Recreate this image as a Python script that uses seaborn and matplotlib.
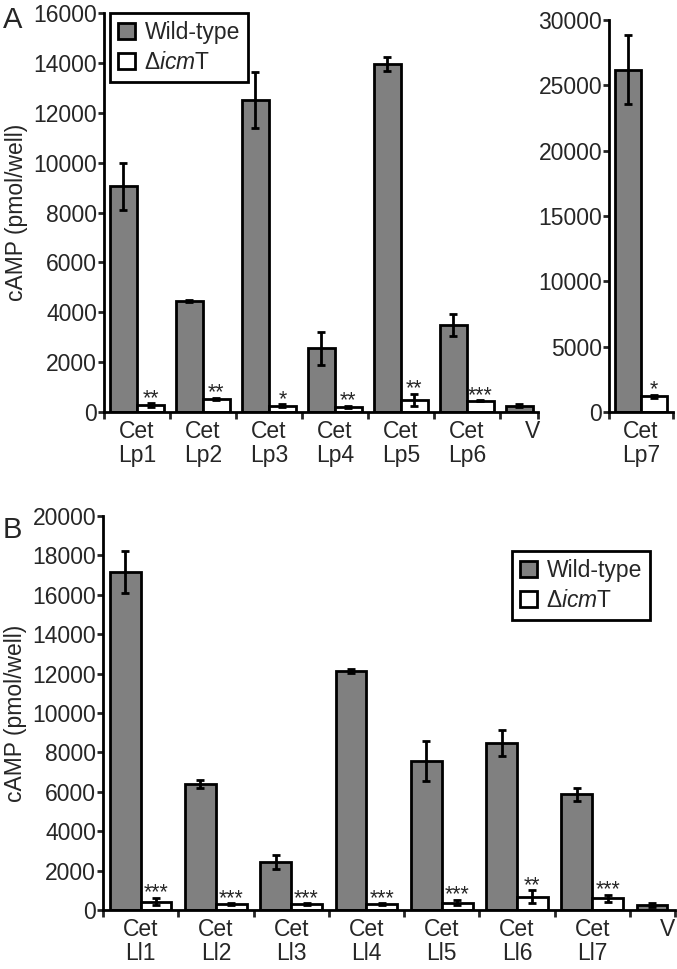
import numpy as np
import pandas as pd
import matplotlib
matplotlib.use("Agg")
import matplotlib.pyplot as plt
import seaborn as sns
from matplotlib.patches import Patch

# -----------------------------
# Data
# -----------------------------
strains = ["Wild-type", "icmT"]
legend_labels = ["Wild-type", r"Δ$\mathit{icm}$T"]

# panel A, left
groups_a = ["Cet\nLp1", "Cet\nLp2", "Cet\nLp3", "Cet\nLp4", "Cet\nLp5", "Cet\nLp6", "V"]
wt_a = [9050, 4450, 12500, 2550, 13950, 3480, 250]
wt_a_err = [930, 50, 1130, 650, 280, 430, 60]
mut_a = [280, 540, 250, 200, 490, 450]
mut_a_err = [80, 40, 60, 50, 240, 15]
stars_a = ["**", "**", "*", "**", "**", "***"]

# panel A, right
groups_a7 = ["Cet\nLp7"]
wt_a7 = [26200]
wt_a7_err = [2640]
mut_a7 = [1200]
mut_a7_err = [120]
stars_a7 = ["*"]

# panel B
groups_b = ["Cet\nLl1", "Cet\nLl2", "Cet\nLl3", "Cet\nLl4", "Cet\nLl5", "Cet\nLl6", "Cet\nLl7", "V"]
wt_b = [17150, 6380, 2430, 12150, 7560, 8470, 5880, 240]
wt_b_err = [1080, 200, 350, 100, 1010, 650, 330, 90]
mut_b = [430, 300, 300, 300, 380, 660, 600]
mut_b_err = [200, 50, 50, 50, 150, 330, 180]
stars_b = ["***", "***", "***", "***", "***", "**", "***"]

GRAY = "#808080"
LW = 2.0
FS = 16.5

sns.set_style("ticks")
plt.rcParams["font.family"] = ["Liberation Sans", "DejaVu Sans"]
plt.rcParams["mathtext.fontset"] = "custom"
plt.rcParams["mathtext.rm"] = "Liberation Sans"
plt.rcParams["mathtext.it"] = "Liberation Sans:italic"


def draw_panel(ax, groups, wt, wt_err, mut, mut_err, stars, ymax, ystep, xright):
    df = pd.DataFrame({
        "group": groups + groups[:len(mut)],
        "strain": [strains[0]] * len(wt) + [strains[1]] * len(mut),
        "cAMP": wt + mut,
    })
    sns.barplot(data=df, x="group", y="cAMP", hue="strain", order=groups,
                hue_order=strains, palette=[GRAY, "white"], saturation=1,
                width=0.82, edgecolor="black", linewidth=LW, errorbar=None,
                legend=False, ax=ax)

    # error bars + significance stars
    for cont, errs, st in zip(ax.containers, [wt_err, mut_err], [None, stars]):
        bars = sorted(cont.patches, key=lambda b: b.get_x())
        xs = [b.get_x() + b.get_width() / 2 for b in bars]
        hs = [b.get_height() for b in bars]
        ax.errorbar(xs, hs, yerr=errs, fmt="none", ecolor="black",
                    elinewidth=LW, capsize=3.2, capthick=LW, zorder=3)
        if st is not None:
            for x, h, e, s in zip(xs, hs, errs, st):
                ax.annotate(s, (x, h + e), xytext=(0, -0.5), textcoords="offset points",
                            ha="center", va="baseline", fontsize=15.5)

    ax.set_xlim(-0.5, xright)
    ax.set_ylim(0, ymax)
    ax.set_yticks(np.arange(0, ymax + 1, ystep))
    ax.set_xticks(range(len(groups)))
    ax.set_xticklabels(groups, linespacing=1.05)
    ax.set_xticks(list(np.arange(-0.5, len(groups) - 1, 1.0)) + [xright], minor=True)
    ax.tick_params(axis="x", which="major", length=0, pad=6, labelsize=FS)
    ax.tick_params(axis="x", which="minor", length=5, width=LW, direction="out")
    ax.tick_params(axis="y", length=4.5, width=LW, pad=0.5, labelsize=FS, direction="out")
    ax.set_xlabel("")
    ax.set_ylabel("")
    sns.despine(ax=ax)
    for sp in ["left", "bottom"]:
        ax.spines[sp].set_linewidth(LW)
        ax.spines[sp].set_color("black")


def add_legend(ax, **kw):
    handles = [Patch(facecolor=GRAY, edgecolor="black", linewidth=LW),
               Patch(facecolor="white", edgecolor="black", linewidth=LW)]
    leg = ax.legend(handles, legend_labels, frameon=True, fancybox=False,
                    edgecolor="black", framealpha=1, fontsize=FS,
                    handlelength=0.75, handleheight=0.75, handletextpad=0.4,
                    borderpad=0.35, labelspacing=0.3, borderaxespad=0, **kw)
    leg.get_frame().set_linewidth(LW)


fig = plt.figure(figsize=(6.77, 9.69), dpi=100)
W, H = 677, 969


def px_axes(x0, x1, ytop, ybot):
    return fig.add_axes([x0 / W, 1 - ybot / H, (x1 - x0) / W, (ybot - ytop) / H])


ax_a = px_axes(104, 538, 13, 412)
ax_a7 = px_axes(609, 673, 20, 412)
ax_b = px_axes(103, 675, 516, 910)

draw_panel(ax_a, groups_a, wt_a, wt_a_err, mut_a, mut_a_err, stars_a, 16000, 2000, 6.08)
draw_panel(ax_a7, groups_a7, wt_a7, wt_a7_err, mut_a7, mut_a7_err, stars_a7, 30000, 5000, 0.5)
draw_panel(ax_b, groups_b, wt_b, wt_b_err, mut_b, mut_b_err, stars_b, 20000, 2000, 7.1)

ax_a.set_ylabel("cAMP (pmol/well)", fontsize=FS, labelpad=4)
ax_b.set_ylabel("cAMP (pmol/well)", fontsize=FS, labelpad=4)

add_legend(ax_a, loc="upper left", bbox_to_anchor=(0.014, 1.0))
add_legend(ax_b, loc="upper right", bbox_to_anchor=(0.956, 0.911))

fig.text(3 / W, 1 - 6 / H, "A", fontsize=21, ha="left", va="top")
fig.text(3 / W, 1 - 516 / H, "B", fontsize=21, ha="left", va="top")

fig.savefig("out.png", dpi=100)
